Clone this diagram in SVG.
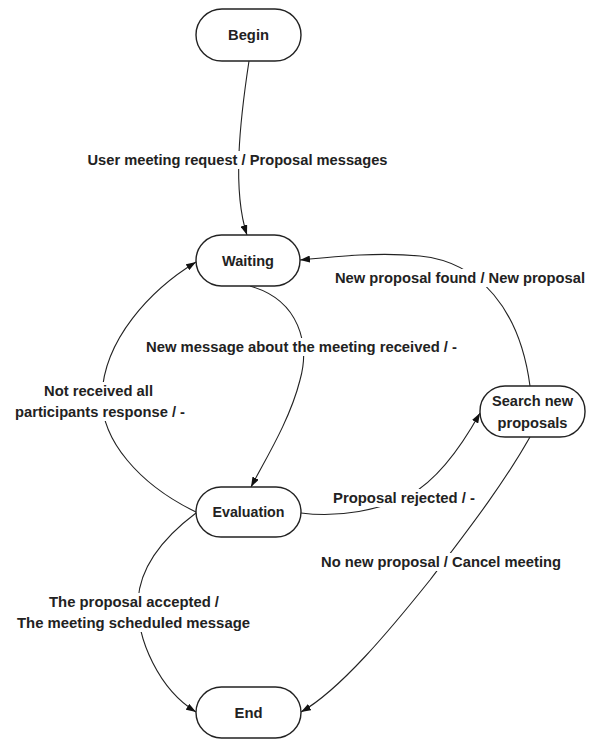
<svg xmlns="http://www.w3.org/2000/svg" width="592" height="739" viewBox="0 0 592 739">
<defs>
<marker id="arr" markerUnits="userSpaceOnUse" markerWidth="10" markerHeight="7" refX="10" refY="3.5" orient="auto">
<path d="M0,0 L10,3.5 L0,7 z" fill="#111"/>
</marker>
<style>
.node rect{fill:#fff;stroke:#222;stroke-width:1.4}
.node text,.lbl text{font-family:"Liberation Sans",Arial,sans-serif;font-weight:bold;font-size:15px;fill:#222;text-anchor:middle}
.edge{fill:none;stroke:#222;stroke-width:1.1;marker-end:url(#arr)}
.lbl rect{fill:#fff;stroke:none}
</style>
</defs>
<rect x="0" y="0" width="592" height="739" fill="#fff"/>
<g id="connectors">
<path class="edge" d="M249,61 C240,120 232,190 247,235"/>
<path class="edge" d="M250,286 C300,300 310,345 300,380 C290,420 265,460 251,487"/>
<path class="edge" d="M196,512 C140,485 100,440 102,395 C104,340 150,290 196,262"/>
<path class="edge" d="M530,386 C520,310 480,262 420,256 C380,252 340,256 300,260"/>
<path class="edge" d="M301,513 C340,518 380,510 410,495 C440,478 465,440 480,413"/>
<path class="edge" d="M530,437 C500,490 460,540 430,580 C390,630 340,690 301,712"/>
<path class="edge" d="M196,513 C160,540 140,570 138,600 C136,640 160,690 196,712"/>
</g>
<g id="labels" class="lbl">
<rect x="85" y="151" width="306" height="18"/>
<text x="237.5" y="165" textLength="300" lengthAdjust="spacingAndGlyphs">User meeting request / Proposal messages</text>
<rect x="332" y="269" width="256" height="18"/>
<text x="460" y="283" textLength="250" lengthAdjust="spacingAndGlyphs">New proposal found / New proposal</text>
<rect x="143" y="338" width="317" height="18"/>
<text x="301.5" y="352" textLength="311" lengthAdjust="spacingAndGlyphs">New message about the meeting received / -</text>
<rect x="12" y="382" width="176" height="39"/>
<text x="98.5" y="396" textLength="109" lengthAdjust="spacingAndGlyphs">Not received all</text>
<text x="100" y="417" textLength="170" lengthAdjust="spacingAndGlyphs">participants response / -</text>
<rect x="330" y="489" width="148" height="18"/>
<text x="404" y="503" textLength="142" lengthAdjust="spacingAndGlyphs">Proposal rejected / -</text>
<rect x="318" y="553" width="246" height="18"/>
<text x="441" y="567" textLength="240" lengthAdjust="spacingAndGlyphs">No new proposal / Cancel meeting</text>
<rect x="14" y="593" width="239" height="39"/>
<text x="134" y="607" textLength="170" lengthAdjust="spacingAndGlyphs">The proposal accepted /</text>
<text x="133.5" y="628" textLength="233" lengthAdjust="spacingAndGlyphs">The meeting scheduled message</text>
</g>
<g id="begin" class="node">
<rect x="196" y="9" width="105" height="52" rx="26" ry="26"/>
<text x="248.5" y="40" textLength="41" lengthAdjust="spacingAndGlyphs">Begin</text>
</g>
<g id="waiting" class="node">
<rect x="196" y="235" width="104" height="51" rx="25.5" ry="25.5"/>
<text x="248" y="266" textLength="52" lengthAdjust="spacingAndGlyphs">Waiting</text>
</g>
<g id="evaluation" class="node">
<rect x="196" y="487" width="105" height="50" rx="25" ry="25"/>
<text x="248.5" y="517" textLength="72" lengthAdjust="spacingAndGlyphs">Evaluation</text>
</g>
<g id="search" class="node">
<rect x="480" y="386" width="105" height="51" rx="25" ry="25"/>
<text x="532.5" y="406" textLength="81" lengthAdjust="spacingAndGlyphs">Search new</text>
<text x="532.5" y="428" textLength="70" lengthAdjust="spacingAndGlyphs">proposals</text>
</g>
<g id="end" class="node">
<rect x="196" y="687" width="105" height="51" rx="25.5" ry="25.5"/>
<text x="248.5" y="718" textLength="28" lengthAdjust="spacingAndGlyphs">End</text>
</g>
</svg>
